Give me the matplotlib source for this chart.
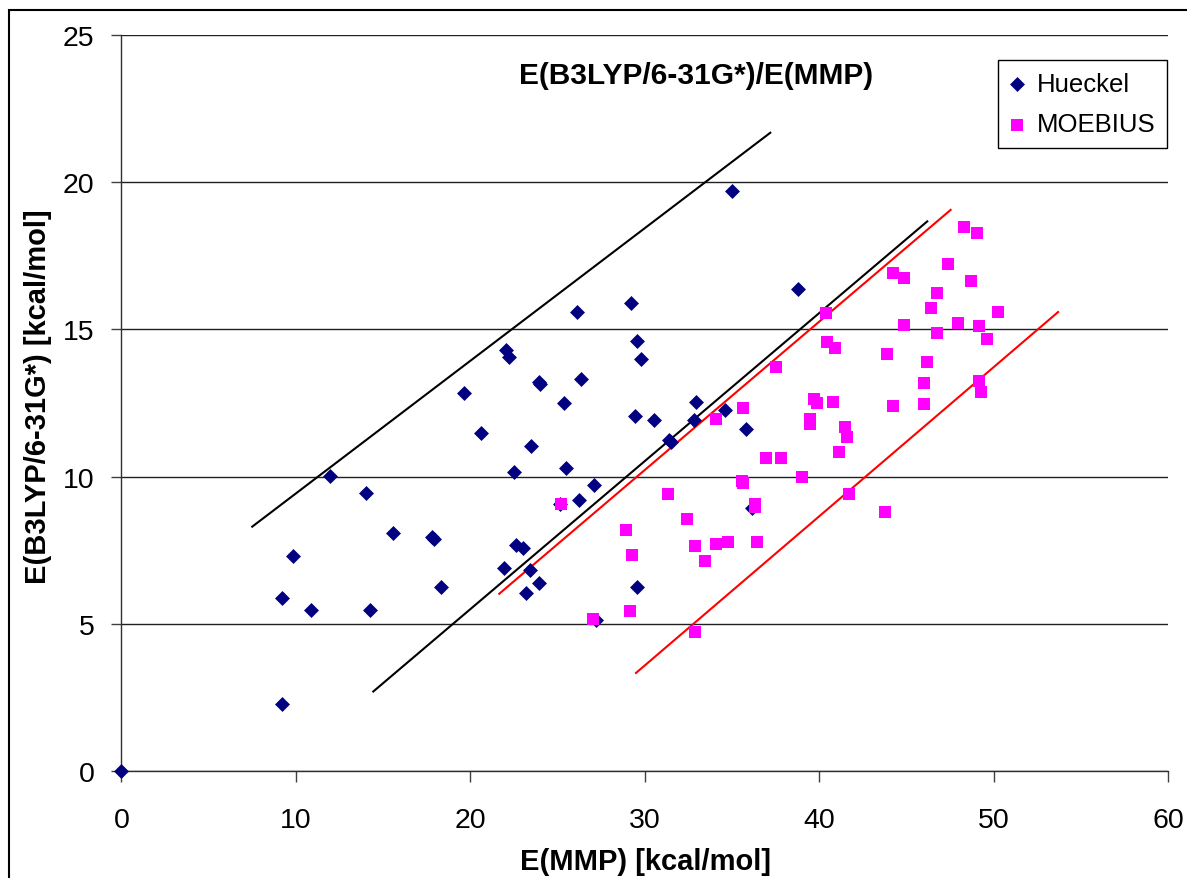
import matplotlib
matplotlib.use("Agg")
import matplotlib.pyplot as plt
from matplotlib.patches import Rectangle

plt.rcParams['font.family'] = ['Liberation Sans', 'DejaVu Sans']

# Hueckel series: E(MMP), E(B3LYP/6-31G*)  [kcal/mol]
hueckel_x = [0.0, 9.18, 9.18, 9.85, 10.85, 11.94, 14.04, 14.27, 15.56, 17.8,
             17.9, 18.32, 19.65, 20.6, 21.94, 22.06, 22.2, 22.48, 22.6, 23.03,
             23.17, 23.42, 23.47, 23.93, 24.0, 23.95, 25.13, 25.35, 25.46, 26.1,
             26.22, 26.34, 27.12, 27.2, 29.2, 29.43, 29.54, 29.53, 29.76, 30.52,
             31.38, 31.5, 32.83, 32.95, 34.59, 35.0, 35.8, 36.18, 38.76]
hueckel_y = [0.0, 2.28, 5.86, 7.3, 5.46, 10.03, 9.45, 5.46, 8.08, 7.95,
             7.88, 6.25, 12.84, 11.48, 6.9, 14.3, 14.07, 10.16, 7.68, 7.57,
             6.06, 6.84, 11.03, 13.21, 13.15, 6.39, 9.08, 12.5, 10.29, 15.58,
             9.19, 13.3, 9.71, 5.12, 15.9, 12.07, 14.6, 6.25, 14.0, 11.93,
             11.26, 11.17, 11.93, 12.53, 12.27, 19.69, 11.6, 8.93, 16.36]

# MOEBIUS series
moebius_x = [25.19, 27.06, 28.93, 29.16, 29.26, 31.36, 32.45, 32.89, 32.89, 33.44,
             34.1, 34.11, 34.76, 35.55, 35.64, 35.64, 36.3, 36.3, 36.42, 36.98,
             37.51, 37.84, 39.04, 39.5, 39.5, 39.71, 39.85, 40.42, 40.45, 40.82,
             40.93, 41.14, 41.47, 41.58, 41.7, 43.78, 43.89, 44.24, 44.24, 44.89,
             44.89, 45.99, 45.99, 46.2, 46.43, 46.74, 46.76, 47.41, 47.96, 48.29,
             48.73, 49.05, 49.16, 49.16, 49.28, 49.62, 50.27]
moebius_y = [9.08, 5.17, 8.18, 5.44, 7.32, 9.42, 8.57, 7.65, 4.71, 7.13,
             7.72, 11.96, 7.77, 9.86, 9.79, 12.34, 9.08, 8.98, 7.77, 10.64,
             13.71, 10.64, 9.99, 11.96, 11.78, 12.62, 12.5, 15.56, 14.57, 12.54,
             14.37, 10.84, 11.69, 11.36, 9.42, 8.81, 14.17, 16.9, 12.41, 16.75,
             15.14, 13.19, 12.47, 13.9, 15.73, 16.25, 14.89, 17.23, 15.22, 18.47,
             16.66, 18.29, 15.12, 13.26, 12.86, 14.68, 15.6]

# guide lines (end points)
black_upper_x, black_upper_y = [7.5, 37.2], [8.3, 21.68]
black_lower_x, black_lower_y = [14.44, 46.2], [2.7, 18.67]
red_upper_x, red_upper_y = [21.66, 47.54], [6.02, 19.06]
red_lower_x, red_lower_y = [29.5, 53.7], [3.33, 15.59]

x_ticks = [0, 10, 20, 30, 40, 50, 60]
y_ticks = [0, 5, 10, 15, 20, 25]

W, H = 1187, 879
fig = plt.figure(figsize=(W / 100, H / 100), dpi=100)
ax = fig.add_axes([121.4 / W, 1 - 772 / H, (1168 - 121.4) / W, (772 - 36) / H])

# outer chart border
fig.patches.append(Rectangle((9 / W, -0.05), 1.1, 1 - 11 / H + 0.05, transform=fig.transFigure,
                             fill=False, edgecolor='black', linewidth=1.5))

ax.plot(black_upper_x, black_upper_y, color='black', lw=1.5, zorder=2)
ax.plot(black_lower_x, black_lower_y, color='black', lw=1.5, zorder=2)
ax.plot(red_upper_x, red_upper_y, color='red', lw=1.5, zorder=2)
ax.plot(red_lower_x, red_lower_y, color='red', lw=1.5, zorder=2)

ax.scatter(hueckel_x, hueckel_y, marker='D', s=58, color='#000080', linewidths=0,
           label='Hueckel', zorder=3, clip_on=False)
ax.scatter(moebius_x, moebius_y, marker='s', s=78, color='#FF00FF', linewidths=0,
           label='MOEBIUS', zorder=4, clip_on=False)

ax.set_xlim(0, 60)
ax.set_ylim(0, 25)
ax.set_xticks(x_ticks)
ax.set_yticks(y_ticks)
ax.yaxis.grid(True, color='#202020', lw=1)
ax.set_axisbelow(True)
for s in ['top', 'right']:
    ax.spines[s].set_visible(False)
for s in ['left', 'bottom']:
    ax.spines[s].set_color('#303030')
    ax.spines[s].set_linewidth(1)
ax.tick_params(axis='x', direction='out', length=8, width=1, color='#404040', labelsize=20.5, pad=18)
ax.tick_params(axis='y', direction='out', length=7, width=1, color='#404040', labelsize=20.5, pad=12.5)

ax.text(0.549, 0.9457, 'E(B3LYP/6-31G*)/E(MMP)', transform=ax.transAxes, ha='center', va='center',
        fontsize=21.5, fontweight='bold')

fig.text(646 / W, 1 - 862 / H, 'E(MMP) [kcal/mol]', ha='center', va='center',
         fontsize=21, fontweight='bold')
fig.text(38 / W, 1 - 397 / H, 'E(B3LYP/6-31G*) [kcal/mol]', ha='center', va='center',
         rotation=90, fontsize=21, fontweight='bold')

leg = ax.legend(loc='upper right', bbox_to_anchor=(0.999, 0.966), fontsize=18.5, frameon=True,
                fancybox=False, edgecolor='black', framealpha=1, handlelength=0.6,
                handletextpad=0.45, borderpad=0.45, labelspacing=0.65, borderaxespad=0,
                scatterpoints=1)
leg.get_frame().set_linewidth(1)

fig.savefig('out.png', dpi=100)
